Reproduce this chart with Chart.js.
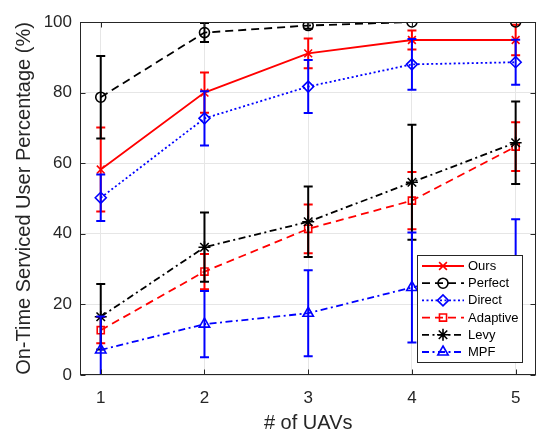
<!DOCTYPE html>
<html>
<head>
<meta charset="utf-8">
<script src="https://cdn.jsdelivr.net/npm/chart.js@4/dist/chart.umd.min.js"></script>
<style>
  html, body { margin: 0; padding: 0; background: #fff; }
  #wrap { width: 544px; height: 435px; }
</style>
</head>
<body>
<div id="wrap"><canvas id="c" width="544" height="435"></canvas></div>
<script>
// Number of UAVs on the x axis
const uavCounts = [1, 2, 3, 4, 5];
const xTicks = [1, 2, 3, 4, 5];
const yTicks = [0, 20, 40, 60, 80, 100];

// Mean on-time serviced user percentage and error half-widths per method
const oursMean = [58.2, 80.0, 91.1, 94.9, 94.9];
const oursErr = [11.9, 5.7, 4.2, 2.7, 4.3];
const perfectMean = [78.7, 97.0, 99.0, 100, 100];
const perfectErr = [11.7, 2.7, 0.9, 0, 0];
const directMean = [50.2, 72.7, 81.7, 88.0, 88.6];
const directErr = [6.6, 7.7, 7.5, 7.2, 6.4];
const adaptiveMean = [12.7, 29.3, 41.4, 49.4, 64.7];
const adaptiveErr = [3.7, 5.0, 6.9, 8.1, 6.9];
const levyMean = [16.5, 36.2, 43.4, 54.6, 65.8];
const levyErr = [9.3, 9.8, 10.0, 16.3, 11.7];
const mpfMean = [7.1, 14.4, 17.5, 24.8, 31.4];
const mpfErr = [9.5, 9.4, 12.2, 15.6, 12.7];

const FONT = '"Liberation Sans", Arial, Helvetica, sans-serif';
const AXIS_COLOR = '#262626';

const DASHED = [8, 5];
const DOTTED = [2, 2.5];
const DASHDOT = [7, 3.5, 2, 3.5];

function series(label, means, errs, color, dash, pointStyle, radius, order) {
  return {
    label,
    data: means.map((v, i) => ({ x: uavCounts[i], y: v })),
    errors: errs,
    borderColor: color,
    borderWidth: 1.8,
    borderDash: dash,
    pointStyle,
    pointRadius: radius,
    pointBorderWidth: 1.6,
    pointBorderColor: color,
    pointBackgroundColor: 'rgba(0,0,0,0)',
    tension: 0,
    fill: false,
    order
  };
}

const datasets = [
  series('Ours', oursMean, oursErr, '#ff0000', [], 'crossRot', 5.5, 5),
  series('Perfect', perfectMean, perfectErr, '#000000', DASHED, 'circle', 5, 4),
  series('Direct', directMean, directErr, '#0000ff', DOTTED, 'rectRot', 5.5, 3),
  series('Adaptive', adaptiveMean, adaptiveErr, '#ff0000', DASHED, 'rect', 5, 2),
  series('Levy', levyMean, levyErr, '#000000', DASHDOT, 'star', 6, 1),
  series('MPF', mpfMean, mpfErr, '#0000ff', DASHDOT, 'triangle', 6, 0)
];

// Vertical error bars with caps, drawn beneath each series' line
const errorBars = {
  id: 'errorBars',
  beforeDatasetDraw(chart, args) {
    const ds = chart.data.datasets[args.index];
    if (!ds.errors) return;
    const { ctx, chartArea, scales } = chart;
    ctx.save();
    ctx.beginPath();
    ctx.rect(chartArea.left, chartArea.top, chartArea.right - chartArea.left, chartArea.bottom - chartArea.top);
    ctx.clip();
    ctx.strokeStyle = ds.borderColor;
    ctx.lineWidth = 2;
    ctx.setLineDash([]);
    const cap = 4.5;
    ds.data.forEach((p, i) => {
      const e = ds.errors[i];
      if (!e) return;
      const px = scales.x.getPixelForValue(p.x);
      const top = scales.y.getPixelForValue(p.y + e);
      const bot = scales.y.getPixelForValue(p.y - e);
      ctx.beginPath();
      ctx.moveTo(px, top); ctx.lineTo(px, bot);
      ctx.moveTo(px - cap, top); ctx.lineTo(px + cap, top);
      ctx.moveTo(px - cap, bot); ctx.lineTo(px + cap, bot);
      ctx.stroke();
    });
    ctx.restore();
  }
};

// Box around the plot area with inward tick marks
const axesBox = {
  id: 'axesBox',
  afterDatasetsDraw(chart) {
    const { ctx, chartArea: a, scales } = chart;
    ctx.save();
    ctx.strokeStyle = AXIS_COLOR;
    ctx.lineWidth = 1;
    ctx.setLineDash([]);
    const L = Math.round(a.left) + 0.5, R = Math.round(a.right) - 0.5;
    const T = Math.round(a.top) + 0.5, B = Math.round(a.bottom) - 0.5;
    ctx.strokeRect(L, T, R - L, B - T);
    const len = 5;
    ctx.beginPath();
    xTicks.forEach(v => {
      const px = Math.round(scales.x.getPixelForValue(v)) + 0.5;
      ctx.moveTo(px, B); ctx.lineTo(px, B - len);
      ctx.moveTo(px, T); ctx.lineTo(px, T + len);
    });
    yTicks.forEach(v => {
      const py = Math.round(scales.y.getPixelForValue(v)) + 0.5;
      ctx.moveTo(L, py); ctx.lineTo(L + len, py);
      ctx.moveTo(R, py); ctx.lineTo(R - len, py);
    });
    ctx.stroke();
    ctx.restore();
  }
};

// Legend box inside the plot: line sample, marker and name per series
const insetLegend = {
  id: 'insetLegend',
  afterDraw(chart) {
    const { ctx } = chart;
    const box = { x: 417.5, y: 255.5, w: 105, h: 107 };
    ctx.save();
    ctx.fillStyle = '#ffffff';
    ctx.fillRect(box.x, box.y, box.w, box.h);
    ctx.strokeStyle = '#262626';
    ctx.lineWidth = 1;
    ctx.setLineDash([]);
    ctx.strokeRect(box.x, box.y, box.w, box.h);
    ctx.font = '13px ' + FONT;
    ctx.textBaseline = 'middle';
    ctx.textAlign = 'left';
    chart.data.datasets.forEach((ds, i) => {
      const y = 266 + i * 17.2;
      ctx.strokeStyle = ds.borderColor;
      ctx.lineWidth = ds.borderWidth;
      ctx.setLineDash(ds.borderDash);
      ctx.beginPath();
      ctx.moveTo(422, y); ctx.lineTo(464, y);
      ctx.stroke();
      ctx.setLineDash([]);
      ctx.fillStyle = 'rgba(0,0,0,0)';
      ctx.lineWidth = ds.pointBorderWidth;
      Chart.helpers.drawPoint(ctx, {
        pointStyle: ds.pointStyle,
        radius: ds.pointRadius,
        rotation: 0,
        borderWidth: ds.pointBorderWidth
      }, 443, y);
      ctx.fillStyle = '#000000';
      ctx.fillText(ds.label, 468, y + 0.5);
    });
    ctx.restore();
  }
};

new Chart(document.getElementById('c'), {
  type: 'line',
  data: { datasets },
  plugins: [errorBars, axesBox, insetLegend],
  options: {
    responsive: false,
    animation: false,
    devicePixelRatio: 1,
    layout: { padding: { left: 0, right: 1.5, top: 22, bottom: 0 } },
    plugins: { legend: { display: false }, tooltip: { enabled: false } },
    scales: {
      x: {
        type: 'linear',
        min: 0.8,
        max: 5.2,
        afterBuildTicks: s => { s.ticks = xTicks.map(v => ({ value: v })); },
        afterFit: s => { s.height = 60; },
        grid: { color: '#e6e6e6', drawTicks: false },
        border: { display: false },
        ticks: { padding: 13, color: AXIS_COLOR, font: { family: FONT, size: 17 }, maxRotation: 0 },
        title: { display: true, text: '# of UAVs', color: AXIS_COLOR, font: { family: FONT, size: 20 }, padding: { top: 0, bottom: 0 } }
      },
      y: {
        min: 0,
        max: 100,
        afterBuildTicks: s => { s.ticks = yTicks.map(v => ({ value: v })); },
        afterFit: s => { s.width = 80; },
        grid: { color: '#e6e6e6', drawTicks: false },
        border: { display: false },
        ticks: { padding: 8, color: AXIS_COLOR, font: { family: FONT, size: 17 } },
        title: { display: true, text: 'On-Time Serviced User Percentage (%)', color: AXIS_COLOR, font: { family: FONT, size: 20 }, padding: { top: 12, bottom: 0 } }
      }
    }
  }
});
</script>
</body>
</html>
